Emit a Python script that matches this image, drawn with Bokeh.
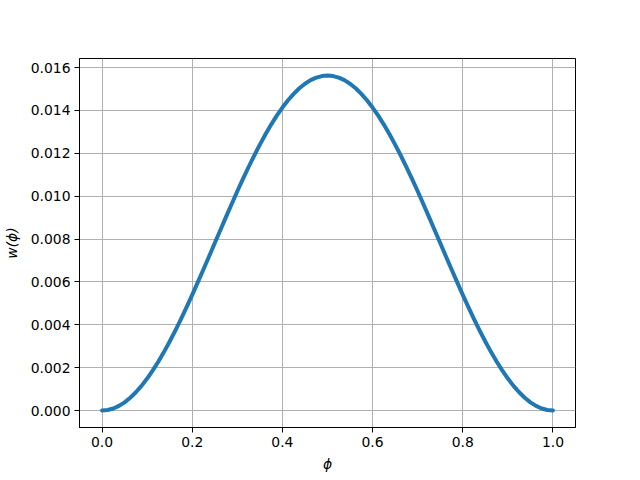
from bokeh.plotting import figure
from bokeh.models import FixedTicker, PrintfTickFormatter, Range1d
from bokeh.embed import file_html
from bokeh.resources import INLINE

# phi sampled every 0.0125 from 0 to 1
phi = [round(k * 0.0125, 4) for k in range(81)]
# w(phi) for phi in [0, 0.5]; the curve is symmetric about 0.5
w_half = [0.0, 0.0000241, 0.0000962, 0.000216, 0.000382, 0.000595, 0.000852,
          0.001151, 0.001492, 0.001872, 0.002288, 0.002739, 0.003220, 0.003730,
          0.004266, 0.004823, 0.005398, 0.005989, 0.006590, 0.007200, 0.007813,
          0.008425, 0.009035, 0.009636, 0.010227, 0.010802, 0.011359, 0.011895,
          0.012405, 0.012886, 0.013337, 0.013753, 0.014133, 0.014474, 0.014773,
          0.015030, 0.015243, 0.015409, 0.015529, 0.015601, 0.015625]
w = w_half + w_half[-2::-1]

x_ticks = [0.0, 0.2, 0.4, 0.6, 0.8, 1.0]
y_ticks = [0.0, 0.002, 0.004, 0.006, 0.008, 0.010, 0.012, 0.014, 0.016]

p = figure(width=624, height=472, output_backend="svg", toolbar_location=None,
           x_range=Range1d(-0.05, 1.05), y_range=Range1d(-0.00079, 0.01642),
           frame_width=496, frame_height=369,
           min_border_left=72, min_border_top=58, min_border_right=56, min_border_bottom=45)

p.line(phi, w, line_color="#1f77b4", line_width=4, line_join="round", line_cap="round")

font = "DejaVu Sans"
fs = "13.9px"
for ax in (p.xaxis, p.yaxis):
    ax.major_label_text_font = font
    ax.major_label_text_font_size = fs
    ax.major_label_text_color = "black"
    ax.axis_label_text_font = font
    ax.axis_label_text_font_size = fs
    ax.axis_label_text_font_style = "italic"
    ax.axis_label_text_color = "black"
    ax.axis_line_color = "black"
    ax.axis_line_width = 1
    ax.major_tick_line_color = "black"
    ax.major_tick_out = 5
    ax.major_tick_in = 0
    ax.minor_tick_line_color = None
    ax.major_label_standoff = 4

p.xaxis.ticker = FixedTicker(ticks=x_ticks)
p.yaxis.ticker = FixedTicker(ticks=y_ticks)
p.xaxis.formatter = PrintfTickFormatter(format="%.1f")
p.yaxis.formatter = PrintfTickFormatter(format="%.3f")
p.xaxis.axis_label = "ϕ"
p.yaxis.axis_label = "w(ϕ)"
p.xaxis.axis_label_standoff = 6
p.yaxis.axis_label_standoff = 8

p.xgrid.ticker = FixedTicker(ticks=x_ticks)
p.ygrid.ticker = FixedTicker(ticks=y_ticks)
p.grid.grid_line_color = "#b0b0b0"
p.grid.grid_line_width = 1

p.outline_line_color = "black"
p.outline_line_width = 1
p.background_fill_color = "white"
p.border_fill_color = "white"

open("out.html", "w").write(file_html(p, INLINE))
